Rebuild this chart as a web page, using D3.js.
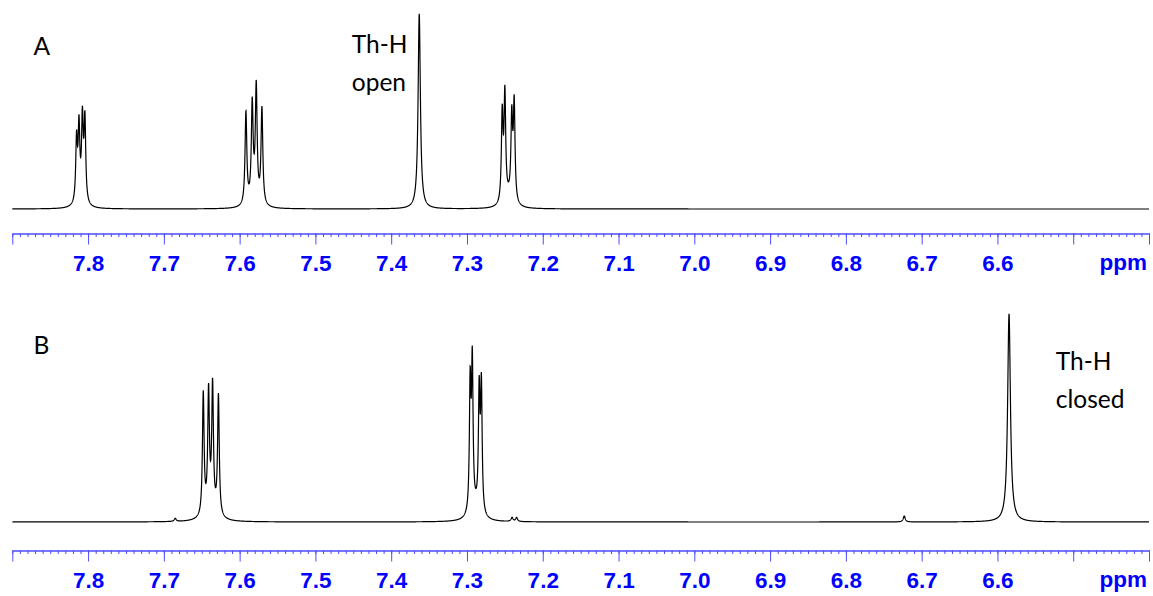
<!DOCTYPE html>
<html>
<head>
<meta charset="utf-8">
<script src="https://cdn.jsdelivr.net/npm/d3@7"></script>
<style>
  html, body { margin: 0; padding: 0; background: #fff; }
  svg { display: block; }
</style>
</head>
<body>
<svg id="chart" width="1153" height="596"></svg>
<script>
// ---- data ----
const ppmDomain = [7.9, 6.4];
const majorTicks = [7.9, 7.8, 7.7, 7.6, 7.5, 7.4, 7.3, 7.2, 7.1, 7.0, 6.9, 6.8, 6.7, 6.6, 6.5, 6.4];
const tickLabels = ["7.8", "7.7", "7.6", "7.5", "7.4", "7.3", "7.2", "7.1", "7.0", "6.9", "6.8", "6.7", "6.6"];
const unitLabel = "ppm";

// Spectrum A: line positions (ppm), intensities, half-widths (ppm)
const peaksA_ppm    = [7.8152, 7.8120, 7.8075, 7.8042, 7.5917, 7.5834, 7.5781, 7.5706, 7.3630, 7.2535, 7.2500, 7.2409, 7.2377, 7.810, 7.581, 7.245];
const peaksA_height = [62, 72, 80, 82, 93, 96, 114, 96, 195, 88, 106, 82, 98, 6, 6, 8];
const peaksA_width  = [0.0013, 0.0013, 0.0013, 0.0013, 0.0014, 0.0014, 0.0014, 0.0014, 0.0018, 0.0013, 0.0013, 0.0013, 0.0013, 0.006, 0.006, 0.006];

// Spectrum B
const peaksB_ppm    = [7.6480, 7.6410, 7.6357, 7.6280, 7.2958, 7.2930, 7.2839, 7.2810, 6.5847, 7.638, 7.289, 6.723, 7.685, 7.2405, 7.2345];
const peaksB_height = [122, 118, 124, 120, 126, 146, 118, 126, 208, 10, 10, 6, 3, 4, 4];
const peaksB_width  = [0.0013, 0.0013, 0.0013, 0.0013, 0.0012, 0.0012, 0.0012, 0.0012, 0.0022, 0.008, 0.007, 0.0015, 0.0015, 0.0015, 0.0015];

const labelsA = [{ lines: ["A"], ppm: 7.872, y: 55 }, { lines: ["Th-H", "open"], ppm: 7.452, y: 53.3 }];
const labelsB = [{ lines: ["B"], ppm: 7.872, y: 354 }, { lines: ["Th-H", "closed"], ppm: 6.523, y: 370 }];

// ---- drawing ----
const svg = d3.select("#chart");
const x = d3.scaleLinear().domain(ppmDomain).range([12.3, 1149]);

function spectrum(ppms, hs, ws) {
  const step = 0.0002;
  const n = Math.round((ppmDomain[0] - ppmDomain[1]) / step);
  const pts = [];
  for (let i = 0; i <= n; i++) {
    const p = ppmDomain[0] - i * step;
    let v = 0;
    for (let k = 0; k < ppms.length; k++) {
      const d = (p - ppms[k]) / ws[k];
      v += hs[k] / (1 + d * d);
    }
    pts.push([p, v]);
  }
  return pts;
}

function panel(cfg) {
  const y = d3.scaleLinear().domain([0, 200]).range([cfg.base, cfg.base - 200]);
  const data = spectrum(cfg.ppm, cfg.h, cfg.w);
  svg.append("path")
    .datum(data)
    .attr("fill", "none")
    .attr("stroke", "#000")
    .attr("stroke-width", 1.2)
    .attr("d", d3.line().x(d => x(d[0])).y(d => y(d[1])));

  // minor ticks
  const minor = d3.range(0, 151).map(i => +(7.9 - i * 0.01).toFixed(2));
  const gMinor = svg.append("g").attr("transform", `translate(0,${cfg.axisY})`)
    .call(d3.axisBottom(x).tickValues(minor).tickSize(3.5).tickFormat("").tickSizeOuter(0));
  gMinor.select(".domain").attr("stroke", "#4d4dff").attr("stroke-width", 1.6);
  gMinor.selectAll(".tick line").attr("stroke", "#4d4dff");

  const gMajor = svg.append("g").attr("transform", `translate(0,${cfg.axisY})`)
    .call(d3.axisBottom(x).tickValues(majorTicks).tickSize(11).tickPadding(10.5).tickSizeOuter(0)
      .tickFormat(d => { const s = d.toFixed(1); return tickLabels.includes(s) ? s : ""; }));
  gMajor.select(".domain").remove();
  gMajor.selectAll(".tick line").attr("stroke", "#4d4dff");
  gMajor.selectAll(".tick text")
    .attr("fill", "#0000ff")
    .attr("font-family", "'Liberation Sans', Arial, sans-serif")
    .attr("font-weight", "bold")
    .attr("font-size", 22.5);

  svg.append("text")
    .attr("x", 1147).attr("y", cfg.axisY + 36.8)
    .attr("text-anchor", "end")
    .attr("fill", "#0000ff")
    .attr("font-family", "'Liberation Sans', Arial, sans-serif")
    .attr("font-weight", "bold")
    .attr("font-size", 22.5)
    .text(unitLabel);

  cfg.labels.forEach(l => {
    l.lines.forEach((t, i) => {
      svg.append("text")
        .attr("x", x(l.ppm)).attr("y", l.y + i * 38)
        .attr("fill", "#000")
        .attr("font-family", "Lato, 'Open Sans', sans-serif")
        .attr("font-size", 24.5)
        .text(t);
    });
  });
}

panel({ ppm: peaksA_ppm, h: peaksA_height, w: peaksA_width, base: 209, axisY: 233.5, labels: labelsA });
panel({ ppm: peaksB_ppm, h: peaksB_height, w: peaksB_width, base: 522, axisY: 550.5, labels: labelsB });
</script>
</body>
</html>
